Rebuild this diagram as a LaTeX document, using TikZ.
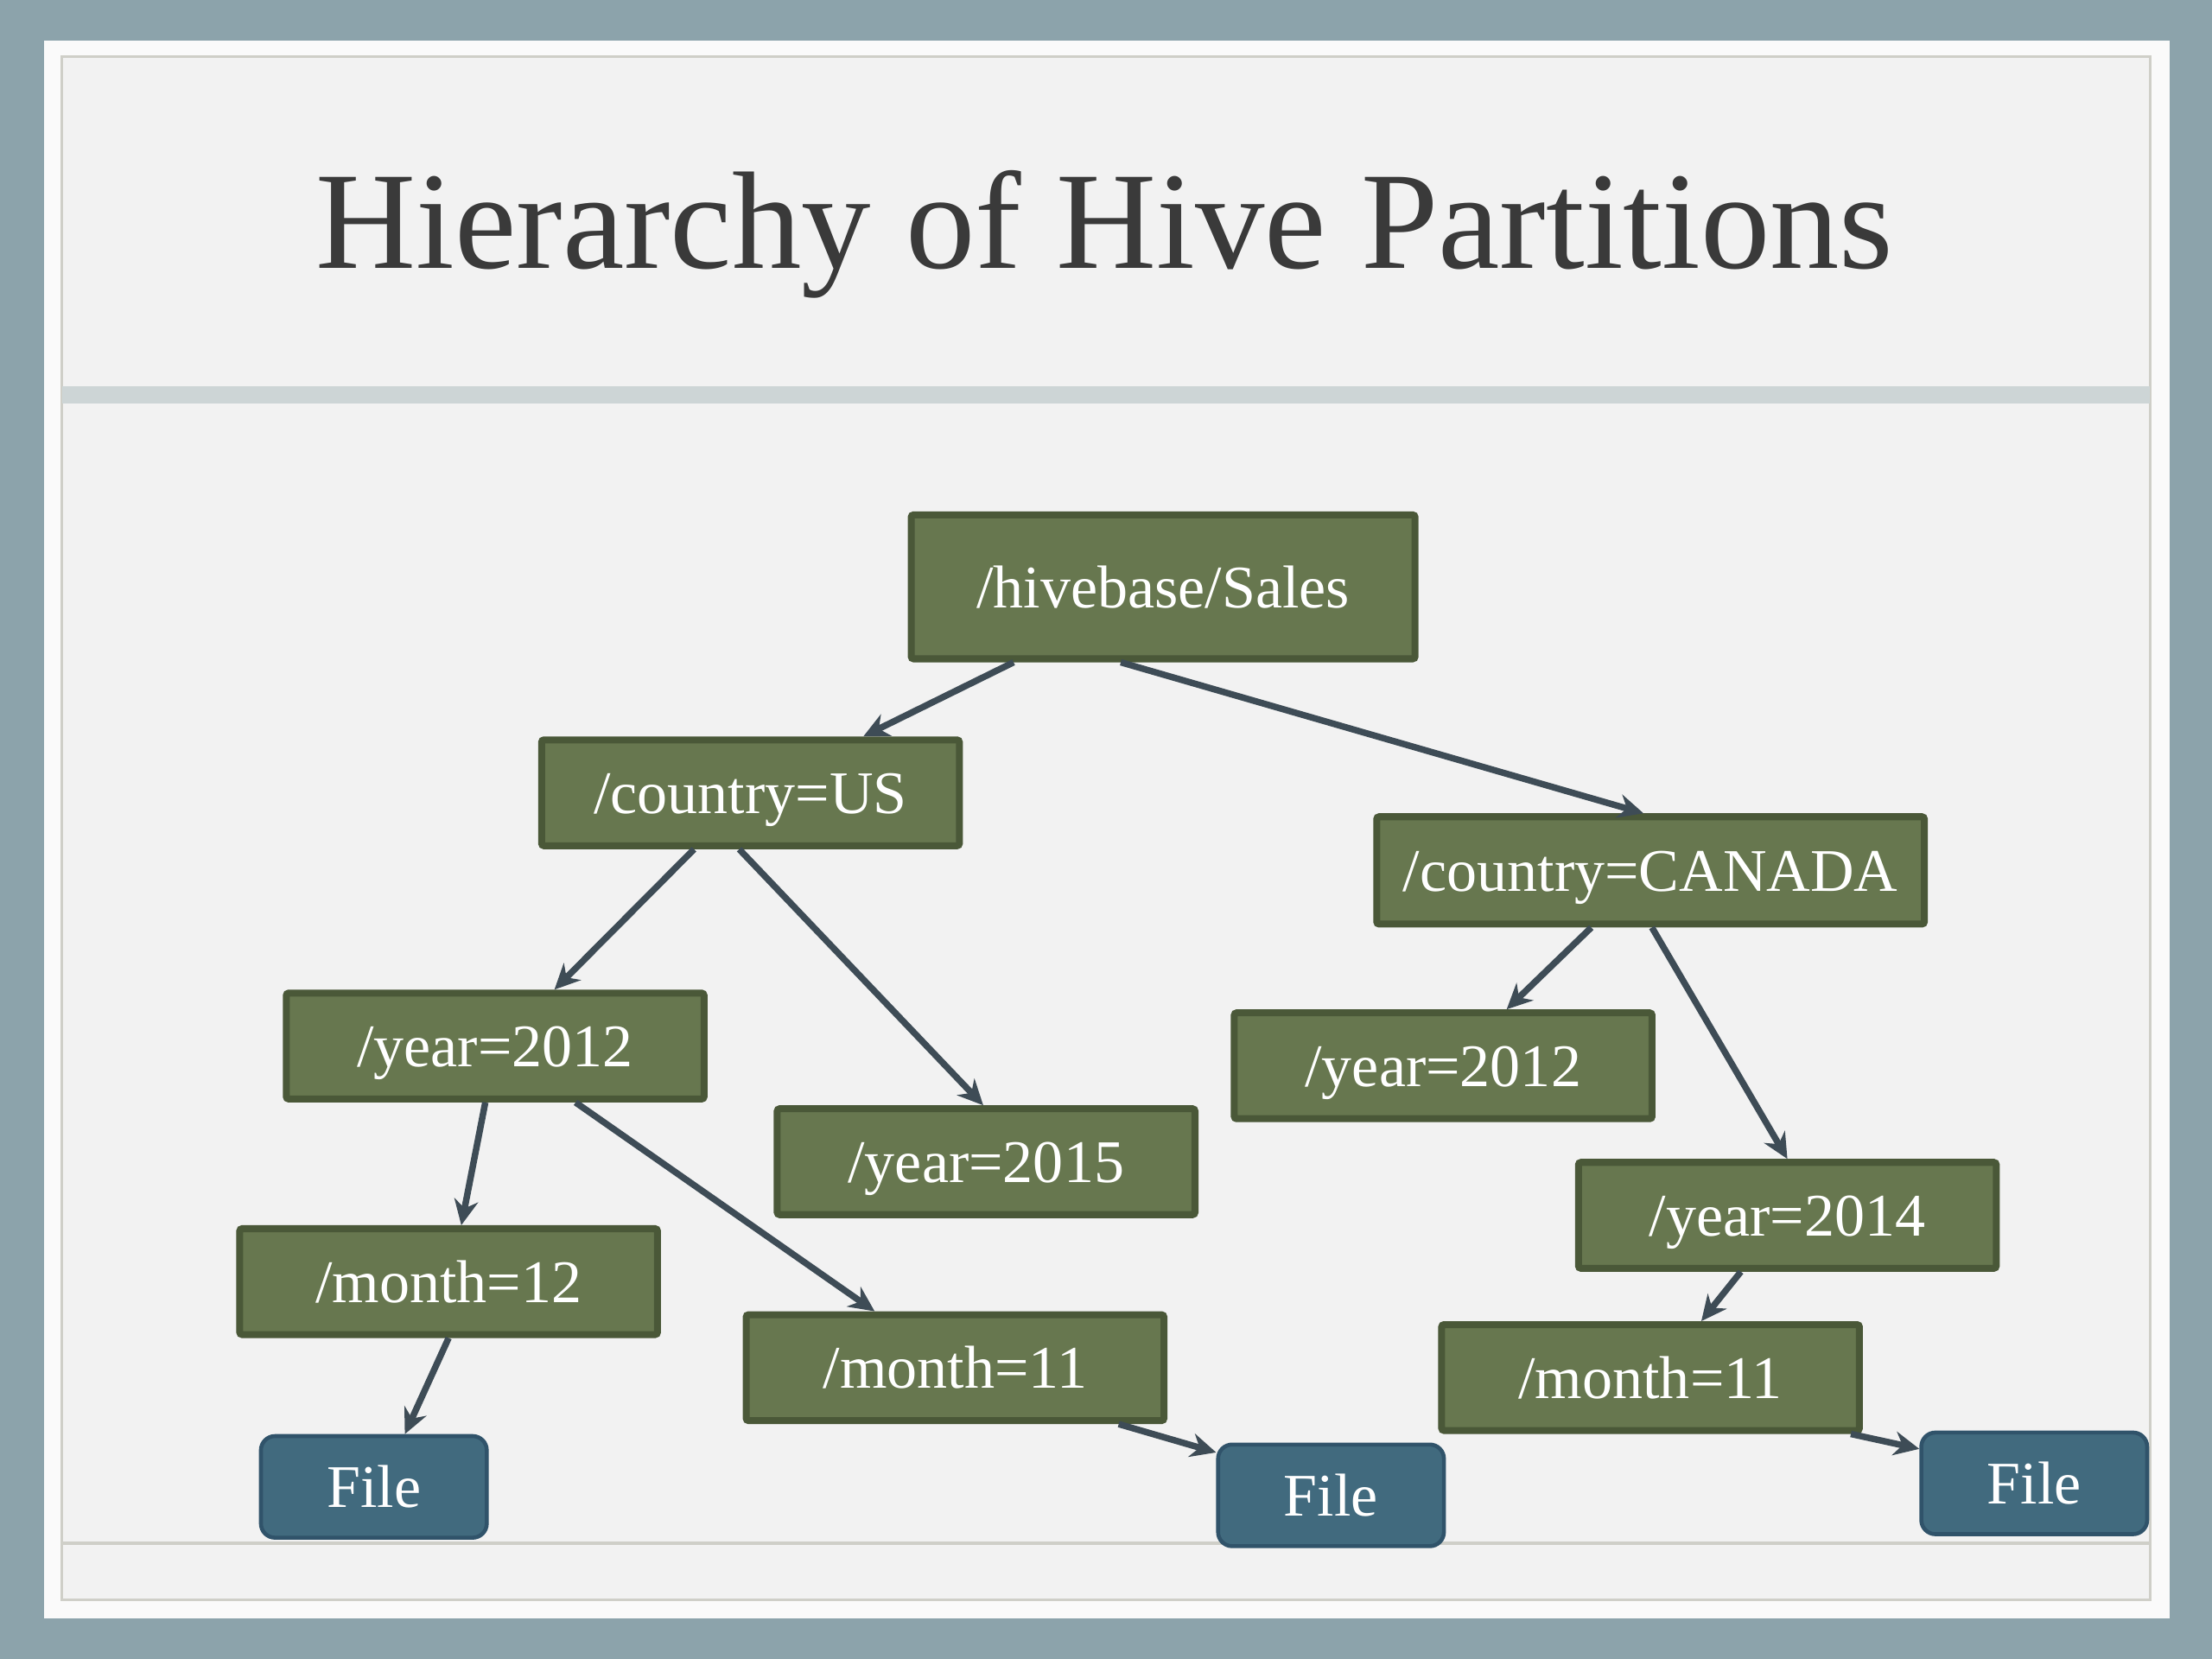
\documentclass[tikz,border=0pt]{standalone}
\usepackage{fontspec}
\setmainfont{Liberation Serif}
\usepackage{tikz}
\usetikzlibrary{positioning}
\usetikzlibrary{calc,arrows.meta}

\definecolor{slateBG}{HTML}{8CA3AB}
\definecolor{slideEdge}{HTML}{FAFAFA}
\definecolor{slideFG}{HTML}{F2F2F2}
\definecolor{frameLine}{HTML}{CFCFC8}
\definecolor{ruleGrey}{HTML}{CDD5D6}
\definecolor{titleInk}{HTML}{3A3A3A}
\definecolor{dirFill}{HTML}{67774F}
\definecolor{dirEdge}{HTML}{4A5838}
\definecolor{fileFill}{HTML}{416A7E}
\definecolor{fileEdge}{HTML}{30536A}
\definecolor{arrowInk}{HTML}{3E4C56}

\tikzset{
	dirbox/.style={draw=dirEdge, line width=1.4pt, fill=dirFill, text=white,
		rounded corners=0.5pt, inner sep=0pt,
		minimum width=2.96cm, minimum height=0.75cm,
		text height=8.3pt, text depth=0pt,
		font=\fontsize{12.2}{14}\selectfont},
	filebox/.style={draw=fileEdge, line width=0.8pt, fill=fileFill, text=white,
		rounded corners=0.1cm, inner sep=0pt,
		minimum width=1.60cm, minimum height=0.72cm,
		text height=8.3pt, text depth=0pt,
		font=\fontsize{12.2}{14}\selectfont},
	branch/.style={draw=arrowInk, line width=1.3pt,
		-{Stealth[length=1.8mm,width=1.7mm]}},
}

\begin{document}
\begin{tikzpicture}[x=0.01cm, y=-0.01cm]

	% Proper size --- Bounding box
	\useasboundingbox (0,0) rectangle (1568,1176);

	% ------------------------------------------------
	% SLIDE BACKGROUND
	% ------------------------------------------------
	\fill[slateBG] (0,0) rectangle (1568,1176);
	\fill[slideEdge] (31,29) rectangle (1538,1147);
	\filldraw[fill=slideFG, draw=frameLine, line width=0.5pt] (44,40) rectangle (1524,1134);
	\fill[ruleGrey] (44,274) rectangle (1524,286);
	\draw[frameLine, line width=0.6pt] (44,1094) -- (1524,1094);

	% Title
	\node[anchor=base, text=titleInk, font=\fontsize{28}{32}\selectfont] (title) at (783,190) {Hierarchy of Hive Partitions};

	% ------------------------------------------------
	% PARTITION TREE
	% ------------------------------------------------
	\node[dirbox, minimum width=3.57cm, minimum height=1.02cm] (root) at (824.5,416) {/hivebase/Sales};

	\node[dirbox] (US) at (532,562) {/country=US};
	\node[dirbox, minimum width=3.88cm, minimum height=0.76cm] (CA) at (1170,617) {/country=CANADA};

	\node[dirbox] (Y12L) at (351,741.5) {/year=2012};
	\node[dirbox] (Y15)  at (699,823.5) {/year=2015};
	\node[dirbox] (Y12R) at (1023,755.5) {/year=2012};
	\node[dirbox] (Y14)  at (1267,861.5) {/year=2014};

	\node[dirbox] (M12)  at (318,908.5) {/month=12};
	\node[dirbox] (M11L) at (677,969.5) {/month=11};
	\node[dirbox] (M11R) at (1170,976.5) {/month=11};

	\node[filebox] (FL) at (265,1054) {File};
	\node[filebox] (FM) at (943.5,1060) {File};
	\node[filebox] (FR) at (1442,1051.5) {File};

	% Branches
	\draw[branch] ($(root.south)+(-106,0)$) -- ($(US.north)+(80,0)$);
	\draw[branch] ($(root.south)+(-30,0)$)  -- ($(CA.north)+(-5,0)$);

	\draw[branch] ($(US.south)+(-40,0)$) -- ($(Y12L.north)+(42,0)$);
	\draw[branch] ($(US.south)+(-8,0)$)  -- ($(Y15.north)+(-2,0)$);

	\draw[branch] ($(Y12L.south)+(-7,0)$) -- ($(M12.north)+(9,0)$);
	\draw[branch] ($(Y12L.south)+(57,0)$) -- ($(M11L.north)+(-57,0)$);

	\draw[branch] (M12.south) -- ($(FL.north)+(22,0)$);
	\draw[branch] ($(M11L.south)+(116,0)$) -- ($(FM.north west)+(0,7)$);

	\draw[branch] ($(CA.south)+(-42,0)$) -- ($(Y12R.north)+(45,0)$);
	\draw[branch] ($(CA.south)+(1,0)$)   -- (Y14.north);

	\draw[branch] ($(Y14.south)+(-33,0)$) -- ($(M11R.north)+(36,0)$);
	\draw[branch] ($(M11R.south)+(142,0)$) -- ($(FR.north west)+(0,13)$);

\end{tikzpicture}
\end{document}
